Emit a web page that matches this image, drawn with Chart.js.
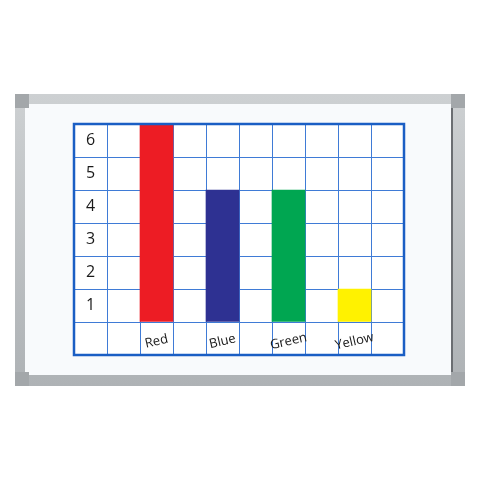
<!DOCTYPE html>
<html lang="en">
<head>
  <meta charset="UTF-8">
  <title>Colour bar graph on a whiteboard</title>
  <script src="https://cdn.jsdelivr.net/npm/chart.js"></script>
  <style>
    body { margin: 0; background: #fff; }
    #wrap { position: relative; width: 480px; height: 480px; }
    /* whiteboard frame behind the chart */
    #frame {
      position: absolute; left: 15px; top: 94px; width: 450px; height: 292px;
      background: linear-gradient(#cdd0d2, #aeb2b5);
      border-radius: 3px;
    }
    #board {
      position: absolute; left: 10px; top: 10px; right: 12px; bottom: 11px;
      background: #f8fafc;
      box-shadow: inset -2px 0 0 #6b6e72;
    }
    .corner { position: absolute; width: 14px; height: 14px; background: #a3a7aa; }
    #myChart { position: absolute; left: 0; top: 0; }
  </style>
</head>
<body>

<div id="wrap">
  <div id="frame">
    <div id="board"></div>
    <div class="corner" style="left:0;top:0"></div>
    <div class="corner" style="right:0;top:0"></div>
    <div class="corner" style="left:0;bottom:0"></div>
    <div class="corner" style="right:0;bottom:0"></div>
  </div>
  <canvas id="myChart" width="480" height="480"></canvas>
</div>

<script>
  // one column per grid cell; the first column holds the numbers
  const categories = ['', '', 'Red', '', 'Blue', '', 'Green', '', 'Yellow', ''];
  const counts = [null, null, 6, null, 4, null, 4, null, 1, null];
  const barColors = ['#fff', '#fff', '#ed1c24', '#fff', '#2e3192', '#fff', '#00a651', '#fff', '#fff200', '#fff'];
  // row labels, top to bottom (last row holds the colour names)
  const rowLabels = ['6', '5', '4', '3', '2', '1', ''];

  const gridBlue = '#3f7bd6';

  // white sheet + thick blue edge round the grid
  const sheet = {
    id: 'sheet',
    beforeDraw(chart) {
      const { ctx, chartArea: a } = chart;
      ctx.save();
      ctx.fillStyle = '#ffffff';
      ctx.fillRect(a.left, a.top, a.right - a.left, a.bottom - a.top);
      ctx.restore();
    },
    afterDraw(chart) {
      const { ctx, chartArea: a } = chart;
      ctx.save();
      ctx.strokeStyle = '#1a5ec4';
      ctx.lineWidth = 2.5;
      ctx.strokeRect(a.left, a.top, a.right - a.left, a.bottom - a.top);
      ctx.restore();
    }
  };

  // colour names sit tilted in the bottom row
  const colourNames = {
    id: 'colourNames',
    afterDatasetsDraw(chart) {
      const { ctx, scales: { x, y } } = chart;
      ctx.save();
      ctx.fillStyle = '#1a1a1a';
      ctx.font = '13px "Open Sans"';
      ctx.textAlign = 'center';
      ctx.textBaseline = 'middle';
      categories.forEach((name, i) => {
        if (!name) return;
        ctx.save();
        ctx.translate(x.getPixelForValue(i), y.getPixelForValue(-0.5) + 3);
        ctx.rotate(-13 * Math.PI / 180);
        ctx.fillText(name, 0, 0);
        ctx.restore();
      });
      ctx.restore();
    }
  };

  const noWidth = (scale) => { scale.width = 0; };

  const config = {
    type: 'bar',
    data: {
      labels: categories,
      datasets: [{
        label: 'Count',
        data: counts,
        backgroundColor: barColors,
        borderWidth: 0,
        barPercentage: 1,
        categoryPercentage: 1
      }]
    },
    options: {
      responsive: false,
      animation: false,
      layout: { padding: { left: 74, top: 124, right: 76, bottom: 125 } },
      plugins: {
        legend: { display: false },
        tooltip: { enabled: false }
      },
      scales: {
        x: {
          offset: true,
          ticks: { display: false },
          grid: { color: gridBlue, lineWidth: 1, drawTicks: false },
          border: { display: false }
        },
        y: {
          min: -1,
          max: 6,
          afterFit: noWidth,
          ticks: { display: false, stepSize: 1 },
          grid: { color: gridBlue, lineWidth: 1, drawTicks: false },
          border: { display: false }
        },
        rows: {
          type: 'category',
          labels: rowLabels,
          position: 'left',
          offset: true,
          afterFit: noWidth,
          grid: { display: false, drawTicks: false },
          border: { display: false },
          ticks: {
            mirror: true,
            crossAlign: 'center',
            padding: 12,
            color: '#1a1a1a',
            font: { family: '"Open Sans"', size: 16 }
          }
        }
      }
    },
    plugins: [sheet, colourNames]
  };

  const ctx = document.getElementById('myChart').getContext('2d');
  new Chart(ctx, config);
</script>

</body>
</html>
